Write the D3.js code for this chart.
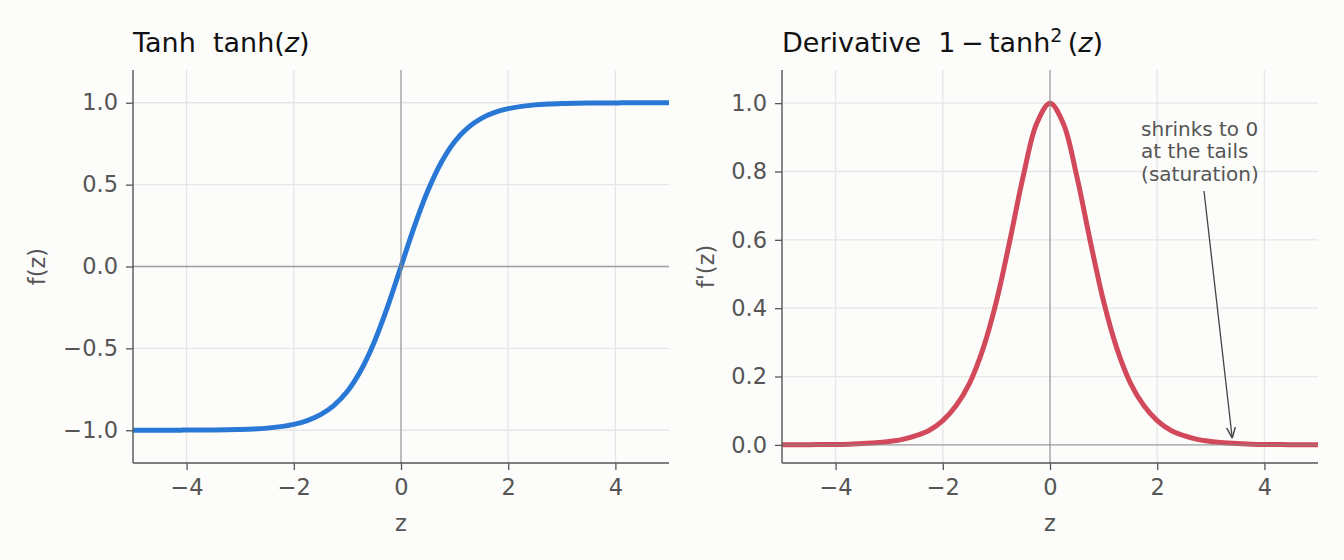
<!DOCTYPE html>
<html>
<head>
<meta charset="utf-8">
<script src="https://cdn.jsdelivr.net/npm/d3@7"></script>
<style>
  body { margin: 0; background: #fcfcfa; }
  svg { display: block; font-family: "DejaVu Sans", sans-serif; }
</style>
</head>
<body>
<div id="chart"></div>
<script>
var w = 1344;
var h = 560;

// z samples and the values
var zValues = [-5, -4.75, -4.5, -4.25, -4, -3.75, -3.5, -3.25, -3, -2.75, -2.5, -2.25, -2, -1.75, -1.5, -1.25, -1, -0.75, -0.5, -0.25,
               0, 0.25, 0.5, 0.75, 1, 1.25, 1.5, 1.75, 2, 2.25, 2.5, 2.75, 3, 3.25, 3.5, 3.75, 4, 4.25, 4.5, 4.75, 5];
var tanhValues = [-1.000, -1.000, -1.000, -1.000, -0.999, -0.999, -0.998, -0.997, -0.995, -0.992, -0.987, -0.978, -0.964, -0.941, -0.905, -0.848, -0.762, -0.635, -0.462, -0.245,
                  0, 0.245, 0.462, 0.635, 0.762, 0.848, 0.905, 0.941, 0.964, 0.978, 0.987, 0.992, 0.995, 0.997, 0.998, 0.999, 0.999, 1.000, 1.000, 1.000, 1.000];
var derivValues = [0.0002, 0.0003, 0.0005, 0.001, 0.001, 0.002, 0.004, 0.006, 0.010, 0.016, 0.027, 0.043, 0.071, 0.115, 0.181, 0.281, 0.420, 0.597, 0.786, 0.940,
                   1.000, 0.940, 0.786, 0.597, 0.420, 0.281, 0.181, 0.115, 0.071, 0.043, 0.027, 0.016, 0.010, 0.006, 0.004, 0.002, 0.001, 0.001, 0.0005, 0.0003, 0.0002];

var xTicks = [-4, -2, 0, 2, 4];
var yTicksLeft = [-1.0, -0.5, 0.0, 0.5, 1.0];
var yTicksRight = [0.0, 0.2, 0.4, 0.6, 0.8, 1.0];
var noteLines = ["shrinks to 0", "at the tails", "(saturation)"];
var notePoint = [3.4, 0.002];
var noteText = [1.7, 0.905];

var svg = d3.select("#chart")
  .append("svg")
  .attr("width", w)
  .attr("height", h);

function panel(opts) {
  var x = d3.scaleLinear().domain([-5, 5]).range([opts.left, opts.left + 536]);
  var y = d3.scaleLinear().domain(opts.yDomain).range([463, 70]);
  var g = svg.append("g");

  // grid
  g.selectAll("line.gx").data(xTicks).enter().append("line")
    .attr("x1", function(d) { return x(d); }).attr("x2", function(d) { return x(d); })
    .attr("y1", 70).attr("y2", 463)
    .attr("stroke", "#e6e6e6").attr("stroke-width", 1.3);
  g.selectAll("line.gy").data(opts.yTicks).enter().append("line")
    .attr("y1", function(d) { return y(d); }).attr("y2", function(d) { return y(d); })
    .attr("x1", x(-5)).attr("x2", x(5))
    .attr("stroke", "#e6e6e6").attr("stroke-width", 1.3);

  // curve
  var line = d3.line()
    .x(function(d) { return x(d[0]); })
    .y(function(d) { return y(d[1]); })
    .curve(d3.curveCatmullRom);
  g.append("path")
    .datum(d3.zip(zValues, opts.values))
    .attr("fill", "none")
    .attr("stroke", opts.color)
    .attr("stroke-width", 5)
    .attr("d", line);

  // zero lines
  g.append("line").attr("x1", x(0)).attr("x2", x(0)).attr("y1", 70).attr("y2", 463)
    .attr("stroke", "#888").attr("stroke-opacity", 0.75).attr("stroke-width", 1.3);
  g.append("line").attr("x1", x(-5)).attr("x2", x(5)).attr("y1", y(0)).attr("y2", y(0))
    .attr("stroke", "#888").attr("stroke-opacity", 0.75).attr("stroke-width", 1.3);

  // axes
  var xAxis = g.append("g").attr("transform", "translate(0,463)")
    .call(d3.axisBottom(x).tickValues(xTicks).tickSize(7).tickPadding(9)
      .tickFormat(function(d) { return d < 0 ? "\u2212" + Math.abs(d) : d; }));
  var yAxis = g.append("g").attr("transform", "translate(" + x(-5) + ",0)")
    .call(d3.axisLeft(y).tickValues(opts.yTicks).tickSize(7).tickPadding(8)
      .tickFormat(function(d) { var s = Math.abs(d).toFixed(1); return d < 0 ? "\u2212" + s : s; }));
  [xAxis, yAxis].forEach(function(a) {
    a.attr("font-size", null).attr("font-family", null);
    a.select(".domain").attr("stroke", "#555").attr("stroke-width", 1.4)
      .attr("d", a === xAxis ? "M" + x(-5) + ",0H" + x(5) : "M0," + y.range()[0] + "V" + y.range()[1]);
    a.selectAll(".tick line").attr("stroke", "#555").attr("stroke-width", 1.3);
    a.selectAll(".tick text").attr("fill", "#555").style("font-size", "22.5px");
  });

  // labels
  g.append("text").attr("x", x(0)).attr("y", 531).attr("text-anchor", "middle")
    .attr("fill", "#555").style("font-size", "22.5px").text("z");
  g.append("text").attr("transform", "translate(" + opts.ylabelX + "," + y((opts.yDomain[0] + opts.yDomain[1]) / 2) + ") rotate(-90)")
    .attr("text-anchor", "middle").attr("fill", "#555").style("font-size", "22.5px").text(opts.ylabel);

  var t = g.append("text").attr("x", opts.left).attr("y", 52)
    .attr("fill", "#111").style("font-size", "27px");
  opts.title(t);
  return { x: x, y: y, g: g };
}

panel({
  left: 133, yDomain: [-1.2, 1.2], yTicks: yTicksLeft, values: tanhValues, color: "#2a78d6",
  ylabel: "f(z)", ylabelX: 45,
  title: function(t) {
    t.append("tspan").text("Tanh\u00a0\u00a0tanh(");
    t.append("tspan").style("font-style", "italic").text("z");
    t.append("tspan").text(")");
  }
});

var right = panel({
  left: 782, yDomain: [-0.053, 1.097], yTicks: yTicksRight, values: derivValues, color: "#d1495b",
  ylabel: "f'(z)", ylabelX: 714,
  title: function(t) {
    t.append("tspan").text("Derivative\u00a0\u00a01\u2009\u2212\u2009tanh");
    t.append("tspan").attr("dy", -10).style("font-size", "19px").text("2");
    t.append("tspan").attr("dy", 10).text("\u2009(");
    t.append("tspan").style("font-style", "italic").text("z");
    t.append("tspan").text(")");
  }
});

// annotation
svg.append("defs").append("marker")
  .attr("id", "head").attr("viewBox", "0 0 10 10").attr("refX", 10).attr("refY", 5)
  .attr("markerWidth", 11).attr("markerHeight", 11).attr("markerUnits", "userSpaceOnUse").attr("orient", "auto")
  .append("path").attr("d", "M0,1L10,5L0,9").attr("fill", "none").attr("stroke", "#444").attr("stroke-width", 1.3);

var note = right.g.append("text").attr("fill", "#555").style("font-size", "20px");
noteLines.forEach(function(s, i) {
  note.append("tspan").attr("x", right.x(noteText[0])).attr("y", right.y(noteText[1]) + i * 22.5).text(s);
});
right.g.append("line")
  .attr("x1", 1204).attr("y1", 191)
  .attr("x2", right.x(notePoint[0])).attr("y2", right.y(notePoint[1]) - 6)
  .attr("stroke", "#444").attr("stroke-width", 1.3)
  .attr("marker-end", "url(#head)");
</script>
</body>
</html>
